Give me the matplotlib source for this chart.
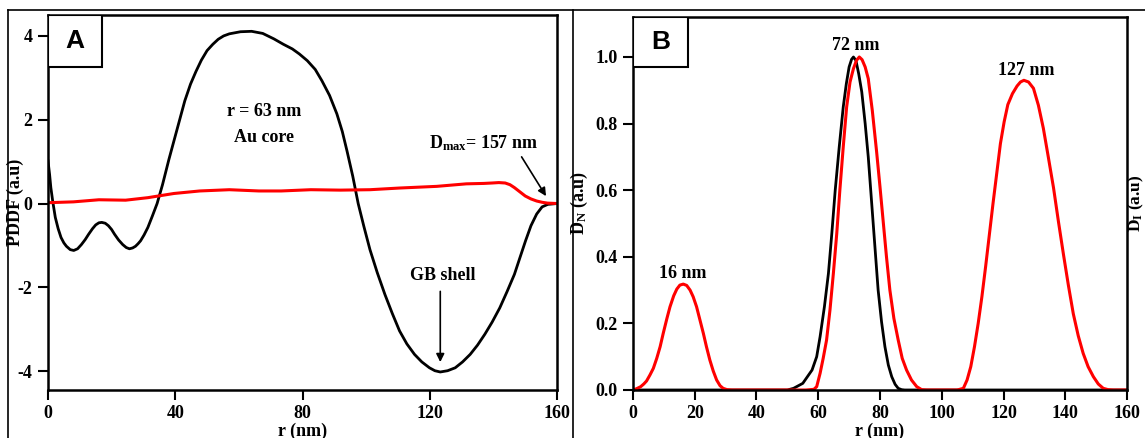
import numpy as np
import matplotlib.pyplot as plt
from matplotlib.lines import Line2D
from matplotlib.patches import Rectangle

plt.rcParams['font.family'] = 'Liberation Serif'
plt.rcParams['font.weight'] = 'bold'
plt.rcParams['axes.labelweight'] = 'bold'
plt.rcParams['font.size'] = 13
plt.rcParams['axes.unicode_minus'] = False
plt.rcParams['mathtext.fontset'] = 'custom'
plt.rcParams['mathtext.rm'] = 'Liberation Serif:bold'
plt.rcParams['mathtext.bf'] = 'Liberation Serif:bold'
plt.rcParams['mathtext.it'] = 'Liberation Serif:bold'

# panel A: pair distance distribution function (black = core, red = shell)
pddf_r = [0, 0.5, 0.9, 1.5, 2.3, 3.2, 4.1, 5, 5.8, 7, 8.1, 9.3, 10.5, 11.7, 12.8, 14, 15,
          16, 16.9, 18, 19, 20, 20.9, 22.2, 23.5, 24.6, 25.6, 26.6, 27.5, 28.3, 29.1, 30.2,
          31.4, 32.8, 34.3, 36, 38, 40.5, 43, 44.8, 46.5, 48.2, 50, 51.8, 53.5, 55.2, 57,
          60.5, 64, 67.5, 71, 74, 76.8, 79, 81.5, 84, 86.1, 88.5, 90.8, 92.5, 94, 95.8,
          97.5, 99.3, 101.2, 103.5, 105.9, 108.2, 110.5, 112.8, 115.2, 117.5, 119.9, 121.6,
          123.3, 125.6, 128, 130.3, 132.7, 135, 137.3, 139.6, 142, 144.3, 146.6, 148.3,
          150.1, 151.8, 153.6, 155.3, 157.1, 160]
pddf_core = [1.02, 0.7, 0.38, 0.05, -0.33, -0.6, -0.81, -0.94, -1.02, -1.1, -1.12, -1.08,
             -0.98, -0.86, -0.73, -0.6, -0.51, -0.46, -0.45, -0.47, -0.53, -0.62, -0.73,
             -0.87, -0.98, -1.05, -1.08, -1.06, -1.02, -0.96, -0.89, -0.75, -0.57, -0.3,
             0.0, 0.45, 1.05, 1.75, 2.45, 2.85, 3.15, 3.42, 3.65, 3.8, 3.92, 4.0, 4.05,
             4.1, 4.11, 4.06, 3.93, 3.8, 3.69, 3.57, 3.41, 3.2, 2.93, 2.58, 2.14, 1.72,
             1.25, 0.65, 0.0, -0.55, -1.1, -1.65, -2.17, -2.62, -3.04, -3.35, -3.6, -3.78,
             -3.92, -3.99, -4.02, -3.99, -3.92, -3.78, -3.6, -3.38, -3.12, -2.83, -2.49,
             -2.1, -1.69, -1.3, -0.89, -0.53, -0.25, -0.08, -0.02, 0.0]

pddf_r2 = [0, 8, 16, 24.4, 31.4, 39.6, 47.7, 57, 66.3, 73.3, 82.6, 91.9, 101.2, 110.5,
           122.2, 131.5, 137, 139.6, 141.7, 143.7, 145.2, 146.6, 148.3, 150, 151.8, 153.6,
           155.3, 157, 160]
pddf_shell = [0.02, 0.04, 0.09, 0.08, 0.14, 0.24, 0.30, 0.33, 0.30, 0.30, 0.33, 0.32,
              0.33, 0.37, 0.41, 0.47, 0.48, 0.49, 0.5, 0.49, 0.45, 0.38, 0.28, 0.18, 0.11,
              0.06, 0.03, 0.01, 0.0]

# panel B: number (black) and intensity (red) distributions
dn_r = [0, 50, 52, 55, 58, 59.5, 60.6, 62, 63.3, 64.4, 65.5, 66.8, 68.1, 69.1, 70, 70.8,
        71.4, 72.2, 73.1, 74.1, 75.2, 76.2, 77, 77.8, 78.6, 79.4, 80.5, 81.6, 82.7, 83.8,
        84.9, 85.9, 87, 88, 160]
dn_val = [0, 0, 0.005, 0.02, 0.06, 0.1, 0.16, 0.25, 0.35, 0.47, 0.6, 0.73, 0.85, 0.92,
          0.97, 0.993, 1.0, 0.99, 0.95, 0.895, 0.80, 0.70, 0.60, 0.50, 0.40, 0.30, 0.205,
          0.13, 0.075, 0.04, 0.017, 0.005, 0.001, 0, 0]

di_r = [0, 1.2, 2.5, 3.5, 4.4, 5.5, 6.6, 7.7, 8.8, 9.8, 11, 12, 13.2, 14.2, 15.2, 16.3,
        17.4, 18.5, 19.5, 20.6, 21.7, 22.8, 23.8, 24.9, 26, 27.1, 28.2, 29.2, 30.5, 32,
        56, 58.6, 59.5, 60.6, 61.6, 62.7, 63.8, 64.9, 66, 67, 68.1, 69.2, 70.3, 71.4,
        72.4, 73.3, 74.2, 75.2, 76.2, 77.5, 78.9, 80, 81.1, 82.1, 83.2, 84.5, 85.9, 87.2,
        88.6, 90.2, 91.9, 93.5, 95,
        105, 107, 108.2, 109.4, 110.6, 111.8, 113, 114.2, 115.4, 116.6, 117.8, 119,
        120.2, 121.4, 122.9, 124.4, 125.5, 126.6, 128.1, 129.7, 131.3, 132.9, 134.5,
        136.2, 137.8, 139.4, 141, 142.6, 144.2, 145.8, 147.4, 149.1, 150.7, 152.3,
        153.9, 155.5, 160]
di_val = [0, 0.004, 0.01, 0.018, 0.027, 0.045, 0.065, 0.095, 0.13, 0.17, 0.215, 0.25,
          0.283, 0.303, 0.315, 0.318, 0.314, 0.30, 0.28, 0.25, 0.21, 0.17, 0.13, 0.09,
          0.057, 0.03, 0.013, 0.005, 0.001, 0,
          0, 0.002, 0.01, 0.05, 0.095, 0.15, 0.24, 0.35, 0.47, 0.6, 0.73, 0.85, 0.925,
          0.965, 0.99, 1.0, 0.992, 0.97, 0.935, 0.84, 0.716, 0.61, 0.50, 0.40, 0.30, 0.215,
          0.15, 0.095, 0.06, 0.03, 0.01, 0.001, 0,
          0, 0.005, 0.03, 0.07, 0.13, 0.2, 0.28, 0.37, 0.465, 0.56, 0.65, 0.74, 0.805,
          0.857, 0.89, 0.913, 0.925, 0.93, 0.925, 0.906, 0.855, 0.786, 0.70, 0.607, 0.505,
          0.408, 0.315, 0.229, 0.163, 0.11, 0.07, 0.04, 0.018, 0.005, 0.001, 0, 0]

fig = plt.figure(figsize=(11.45, 4.38), dpi=100)

# outer panel frames
for xs, ys in [([0.007, 0.007], [0.977, -0.1]), ([0.5004, 0.5004], [0.977, -0.1]),
               ([0.007, 1.1], [0.977, 0.977])]:
    fig.add_artist(Line2D(xs, ys, transform=fig.transFigure, color='black', lw=1.2))

axA = fig.add_axes([0.0419, 0.1096, 0.4446, 0.8562])
axB = fig.add_axes([0.5528, 0.1096, 0.4315, 0.8515])

for ax in (axA, axB):
    for s in ax.spines.values():
        s.set_linewidth(1.8)
    ax.tick_params(direction='out', length=7, width=1.5, pad=4, labelsize=13)

# panel A
axA.plot(pddf_r, pddf_core, color='black', lw=2)
axA.plot(pddf_r2, pddf_shell, color='red', lw=2.2)
axA.set_xlim(0, 160)
axA.set_ylim(-4.45, 4.5)
axA.set_xticks([0, 40, 80, 120, 160])
axA.set_yticks([-4, -2, 0, 2, 4])
axA.set_ylabel('PDDF (a.u)', fontsize=13)
axA.yaxis.set_label_coords(-0.047, 0.5)
axA.set_xlabel('r (nm)', fontsize=13, labelpad=0)
axA.text(68, 2.2, 'r = 63 nm', ha='center', va='center', fontsize=13)
axA.text(68, 1.57, 'Au core', ha='center', va='center', fontsize=13)
axA.text(136.8, 1.43, r'D$_{max}$= 157 nm', ha='center', va='center', fontsize=13)
axA.annotate('', xy=(157, 0.12), xytext=(148.4, 1.17),
             arrowprops=dict(arrowstyle='-|>', color='black', lw=1.2, mutation_scale=12))
axA.text(124, -1.72, 'GB shell', ha='center', va='center', fontsize=13)
axA.annotate('', xy=(123.3, -3.85), xytext=(123.3, -2.03),
             arrowprops=dict(arrowstyle='-|>', color='black', lw=1.2, mutation_scale=12))
axA.add_patch(Rectangle((0, 0.861), 0.106, 0.139, transform=axA.transAxes,
                        facecolor='white', edgecolor='black', lw=1.5, zorder=5))
axA.text(0.053, 0.93, 'A', transform=axA.transAxes, ha='center', va='center',
         fontsize=19, family='Liberation Sans', weight='bold', zorder=6)

# panel B
axB.plot(dn_r, dn_val, color='black', lw=2)
axB.plot(di_r, di_val, color='red', lw=2.2)
axB.set_xlim(0, 160)
axB.set_ylim(0, 1.12)
axB.set_xticks(np.arange(0, 161, 20))
axB.set_yticks(np.arange(0, 1.01, 0.2))
axB.set_yticklabels(['0.0', '0.2', '0.4', '0.6', '0.8', '1.0'])
axB.set_ylabel(r'D$_N$ (a.u)', fontsize=13)
axB.yaxis.set_label_coords(-0.087, 0.5)
axB.set_xlabel('r (nm)', fontsize=13, labelpad=0)
axB.text(16.1, 0.35, '16 nm', ha='center', va='center', fontsize=13)
axB.text(72.3, 1.035, '72 nm', ha='center', va='center', fontsize=13)
axB.text(127.4, 0.96, '127 nm', ha='center', va='center', fontsize=13)
axB.add_patch(Rectangle((0, 0.866), 0.111, 0.134, transform=axB.transAxes,
                        facecolor='white', edgecolor='black', lw=1.5, zorder=5))
axB.text(0.0555, 0.933, 'B', transform=axB.transAxes, ha='center', va='center',
         fontsize=19, family='Liberation Sans', weight='bold', zorder=6)
# right-hand axis title for the intensity distribution
axB.text(1.019, 0.5, r'D$_I$ (a.u)', transform=axB.transAxes, rotation=90,
         ha='center', va='center', fontsize=12.5)

fig.savefig('out.png', dpi=100)
